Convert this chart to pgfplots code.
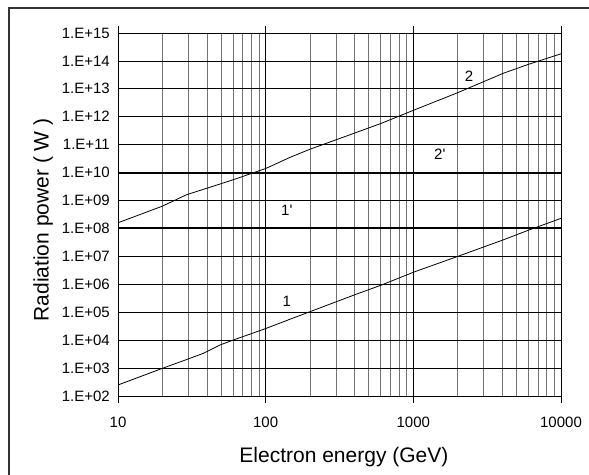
\documentclass[border=0pt]{standalone}
\usepackage{pgfplots}
\pgfplotsset{compat=1.18}
\usepackage{fontspec}
\setmainfont{Liberation Sans}

\begin{document}
\begin{tikzpicture}[x=1bp,y=1bp]
\useasboundingbox (0,0) rectangle (589,475);
% outer frame, only top and left edge visible
\draw[line width=1.6bp, black!80] (9,-20) -- (9,467) -- (620,467);
\begin{axis}[
    at={(118bp,79bp)}, anchor=south west,
    scale only axis, width=443bp, height=363bp,
    xmode=log, ymode=log,
    xmin=10, xmax=10000, ymin=1e2, ymax=1e15,
    xtick={10,100,1000,10000},
    xticklabels={10,100,1000,10000},
    minor xtick={20,30,40,50,60,70,80,90,200,300,400,500,600,700,800,900,2000,3000,4000,5000,6000,7000,8000,9000},
    ytick={1e2,1e3,1e4,1e5,1e6,1e7,1e8,1e9,1e10,1e11,1e12,1e13,1e14,1e15},
    yticklabels={1.E+02,1.E+03,1.E+04,1.E+05,1.E+06,1.E+07,1.E+08,1.E+09,1.E+10,1.E+11,1.E+12,1.E+13,1.E+14,1.E+15},
    yminorgrids=false, ymajorgrids=true, xmajorgrids=true, xminorgrids=true,
    major grid style={black, line width=0.8bp},
    minor grid style={black!55, line width=0.8bp},
    axis line style={black, line width=0.8bp},
    tick align=outside,
    major tick length=7bp, minor tick length=0pt,
    xtick style={black, line width=0.8bp},
    ytick style={/pgfplots/major tick length=0pt},
    ticklabel style={font=\fontsize{15bp}{18bp}\selectfont},
    yticklabel style={anchor=east, inner sep=0pt, xshift=-1bp},
    xticklabel style={anchor=north, inner sep=0pt, yshift=-14bp},
    xlabel={Electron energy (GeV)},
    xlabel style={font=\fontsize{21bp}{24bp}\selectfont, at={(axis description cs:0.51,-0.184)}, anchor=base},
    ylabel={Radiation power ( W )},
    ylabel style={font=\fontsize{21bp}{24bp}\selectfont, at={(axis description cs:-0.169,0.485)}, anchor=center},
]
% limits 2' and 1'
\addplot[black, line width=2bp] coordinates {(10,1e10) (1000,1e10) (10000,1e10)};
\addplot[black, line width=2bp] coordinates {(10,1e8) (1000,1e8) (10000,1e8)};
% curve 1
\addplot[black, line width=0.8bp] coordinates {
    (10,248) (20,980) (29,2000) (38,3400) (49,6700) (60,1.0e4) (100,2.6e4)
    (146,5.6e4) (200,1.05e5) (400,4.2e5) (611,9.5e5) (1000,2.7e6) (2000,1.0e7)
    (4060,3.9e7) (6000,8.6e7) (10000,2.3e8)
};
% curve 2
\addplot[black, line width=0.8bp] coordinates {
    (10,1.6e8) (20,6.3e8) (29,1.6e9) (60,5.5e9) (100,1.4e10) (146,3.5e10)
    (200,6.9e10) (400,2.6e11) (611,5.9e11) (1000,1.7e12) (2000,7.3e12)
    (4060,3.6e13) (6000,7.5e13) (10000,1.8e14)
};
\node[font=\fontsize{15bp}{18bp}\selectfont] at (axis cs:2380,2.9e13) {2};
\node[font=\fontsize{15bp}{18bp}\selectfont] at (axis cs:1510,4.7e10) {2\textquotesingle};
\node[font=\fontsize{15bp}{18bp}\selectfont] at (axis cs:139,4.4e8) {1\textquotesingle};
\node[font=\fontsize{15bp}{18bp}\selectfont] at (axis cs:139,2.4e5) {1};
\end{axis}
\end{tikzpicture}
\end{document}
